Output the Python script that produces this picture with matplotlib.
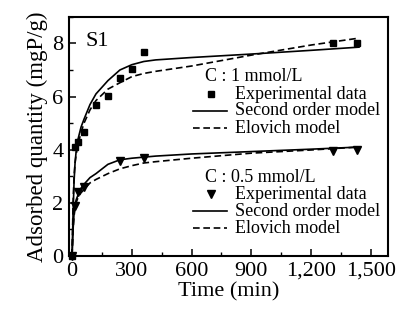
import matplotlib
matplotlib.use("Agg")
import matplotlib.pyplot as plt
from matplotlib.lines import Line2D
from matplotlib.ticker import MultipleLocator

plt.rcParams['font.family'] = ['Liberation Serif', 'DejaVu Serif']

# Experimental data
t_exp1 = [0, 15, 30, 60, 120, 180, 240, 300, 360, 1310, 1430]
q_exp1 = [0, 4.1, 4.3, 4.66, 5.68, 6.02, 6.7, 7.03, 7.67, 8.02, 8.02]
t_exp2 = [0, 15, 30, 60, 240, 360, 1310, 1430]
q_exp2 = [0, 1.9, 2.4, 2.6, 3.56, 3.69, 3.95, 4.0]

# Model curves
t_model = [0, 5, 10, 15, 20, 30, 45, 60, 90, 120, 180, 240, 300, 360, 420, 600, 900, 1200, 1440]
q_so1 = [0, 1.6, 2.8, 3.5, 3.9, 4.4, 4.85, 5.15, 5.7, 6.1, 6.6, 7.0, 7.2, 7.32, 7.38, 7.47, 7.6, 7.74, 7.86]
q_el1 = [0, 2.0, 3.0, 3.5, 3.8, 4.2, 4.65, 5.0, 5.5, 5.85, 6.28, 6.52, 6.75, 6.87, 6.95, 7.15, 7.56, 7.94, 8.2]
q_so2 = [0, 1.0, 1.6, 1.9, 2.1, 2.3, 2.55, 2.7, 2.95, 3.1, 3.45, 3.62, 3.68, 3.72, 3.76, 3.84, 3.93, 4.02, 4.1]
q_el2 = [0, 1.0, 1.5, 1.8, 2.0, 2.2, 2.38, 2.5, 2.75, 2.88, 3.1, 3.28, 3.4, 3.5, 3.55, 3.68, 3.87, 3.99, 4.1]

x_ticks = [0, 300, 600, 900, 1200, 1500]
x_ticklabels = ['0', '300', '600', '900', '1,200', '1,500']
y_ticks = [0, 2, 4, 6, 8]

fig = plt.figure(figsize=(3.97, 3.18), dpi=100)
ax = fig.add_axes([0.174, 0.195, 0.803, 0.752])

lw = 1.2
dash = (0, (4, 2.2))
ax.plot(t_model, q_so1, color='black', lw=lw)
ax.plot(t_model, q_el1, color='black', lw=lw, linestyle=dash)
ax.plot(t_model, q_so2, color='black', lw=lw)
ax.plot(t_model, q_el2, color='black', lw=lw, linestyle=dash)
ax.plot(t_exp1, q_exp1, linestyle='none', marker='s', ms=5, color='black', clip_on=False)
ax.plot(t_exp2, q_exp2, linestyle='none', marker='v', ms=5.5, color='black', clip_on=False)

ax.set_xlim(-15, 1585)
ax.set_ylim(0, 9)
ax.set_xticks(x_ticks)
ax.set_xticklabels(x_ticklabels)
ax.set_yticks(y_ticks)
ax.xaxis.set_minor_locator(MultipleLocator(150))
ax.yaxis.set_minor_locator(MultipleLocator(1))
ax.tick_params(which='both', direction='in', top=False, right=False, labelsize=16, pad=4)
ax.tick_params(which='major', length=5, width=1.1)
ax.tick_params(which='minor', length=3, width=1.0)
for s in ax.spines.values():
    s.set_linewidth(1.5)

ax.set_xlabel('Time (min)', fontsize=16, labelpad=1)
ax.set_ylabel('Adsorbed quantity (mgP/g)', fontsize=16.5, labelpad=3)

ax.text(0.05, 0.895, 'S1', transform=ax.transAxes, fontsize=16, va='center', ha='left')

# Legends (manual, Origin style)
def legend_block(y_title, rows):
    ax.text(0.425, y_title, 'C : ' + rows[0], transform=ax.transAxes, fontsize=13, va='center', ha='left')
    ys = [y_title - 0.072, y_title - 0.142, y_title - 0.215]
    labels = ['Experimental data', 'Second order model', 'Elovich model']
    for y, lab in zip(ys, labels):
        ax.text(0.52, y, lab, transform=ax.transAxes, fontsize=13, va='center', ha='left')
    ax.add_line(Line2D([0.445], [ys[0]], transform=ax.transAxes, marker=rows[1], ms=rows[2], color='black', ls='none'))
    ax.add_line(Line2D([0.39, 0.495], [ys[1]] * 2, transform=ax.transAxes, color='black', lw=lw))
    ax.add_line(Line2D([0.39, 0.495], [ys[2]] * 2, transform=ax.transAxes, color='black', lw=lw, linestyle=dash))

legend_block(0.749, ['1 mmol/L', 's', 5])
legend_block(0.33, ['0.5 mmol/L', 'v', 5.5])

fig.savefig('out.png', dpi=100)
